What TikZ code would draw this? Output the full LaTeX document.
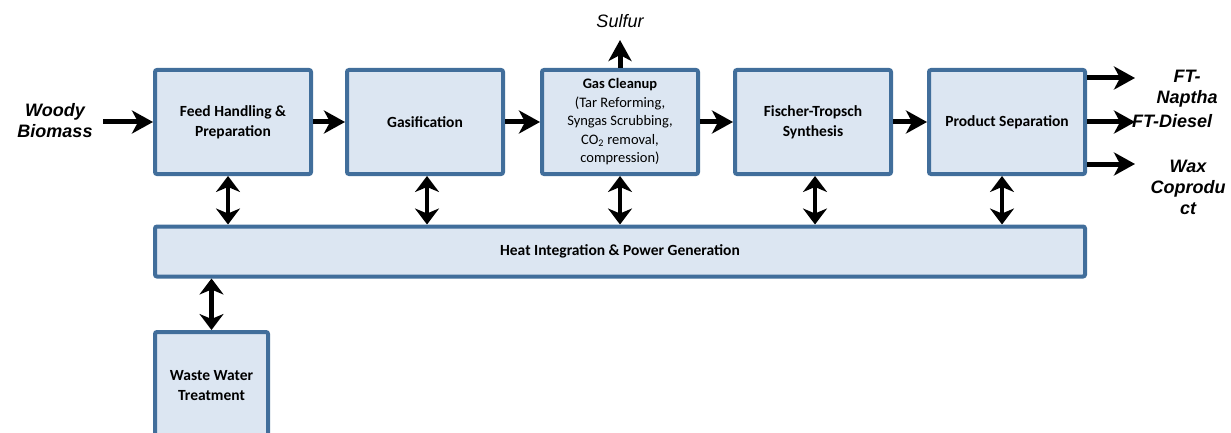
\documentclass[tikz,border=0pt]{standalone}
\usepackage{fontspec}
\newfontfamily\calib{Carlito}
\newfontfamily\arialf{Liberation Sans}
\usetikzlibrary{arrows.meta}
\definecolor{boxline}{RGB}{65,110,155}
\definecolor{boxfill}{RGB}{220,230,242}
\tikzset{
  procbox/.style={draw=boxline, line width=4pt, fill=boxfill, rounded corners=2pt,
    align=center, inner sep=2pt, font=\calib\bfseries\fontsize{15.5}{20}\selectfont},
  flow/.style={line width=5pt, -{Stealth[length=21pt,width=23pt,inset=6pt]}},
  dbl/.style={line width=4.5pt, {Stealth[length=16pt,width=24pt,inset=5pt]}-{Stealth[length=16pt,width=24pt,inset=5pt]}},
  outlbl/.style={font=\arialf\bfseries\itshape\fontsize{18}{21}\selectfont, align=center, inner sep=0pt},
}
\begin{document}
\begin{tikzpicture}[x=1pt,y=-1pt]
\useasboundingbox (0,0) rectangle (1231,433);
\clip (0,0) rectangle (1231,433);
\node[procbox, minimum width=156pt, minimum height=104pt] (feed) at (233,122) {Feed Handling \&\\Preparation};
\node[procbox, minimum width=156pt, minimum height=104pt] (gasi) at (425,122) {Gasification};
\node[procbox, minimum width=156pt, minimum height=104pt, font=\calib\fontsize{14.5}{18.5}\selectfont] (clean) at (620,122) {\textbf{Gas Cleanup}\\(Tar Reforming,\\Syngas Scrubbing,\\CO\textsubscript{2} removal,\\compression)};
\node[procbox, minimum width=156pt, minimum height=104pt] (fts) at (813,122) {Fischer-Tropsch\\Synthesis};
\node[procbox, minimum width=156pt, minimum height=104pt] (prod) at (1007,122) {Product Separation};
\node[procbox, minimum width=930pt, minimum height=50pt] (heat) at (620,251.5) {Heat Integration \& Power Generation};
\node[procbox, minimum width=113pt, minimum height=108pt] (waste) at (211.5,386) {Waste Water\\Treatment};

\node[outlbl] (woody) at (55,121) {Woody\\Biomass};
\coordinate (win) at (103,122);
\draw[flow] (win) -- (feed.west);
\draw[flow] (feed.east) -- (gasi.west);
\draw[flow] (gasi.east) -- (clean.west);
\draw[flow] (clean.east) -- (fts.west);
\draw[flow] (fts.east) -- (prod.west);

\node[font=\arialf\itshape\fontsize{18}{21}\selectfont, inner sep=0pt] (sulfur) at (620,21) {Sulfur};
\coordinate (sout) at (620,40);
\draw[flow] (clean.north) -- (sout);

\coordinate (o1) at (1135,78);
\coordinate (o2) at (1135,122);
\coordinate (o3) at (1135,164);
\draw[flow] (prod.east |- o1) -- (o1);
\draw[flow] (prod.east) -- (o2);
\draw[flow] (prod.east |- o3) -- (o3);
\node[outlbl] (naptha) at (1187,89) {FT-\\Naptha};
\node[outlbl, anchor=west] (diesel) at (1132,121) {FT-Diesel};
\node[outlbl] (wax) at (1188,187) {Wax\\Coprodu\\ct};

\draw[dbl] ([xshift=-5pt]feed.south) -- ([xshift=-5pt]feed.south |- heat.north);
\draw[dbl] ([xshift=2pt]gasi.south) -- ([xshift=2pt]gasi.south |- heat.north);
\draw[dbl] (clean.south) -- (clean.south |- heat.north);
\draw[dbl] ([xshift=2pt]fts.south) -- ([xshift=2pt]fts.south |- heat.north);
\draw[dbl] ([xshift=-5pt]prod.south) -- ([xshift=-5pt]prod.south |- heat.north);
\draw[dbl] (waste.north) -- (waste.north |- heat.south);
\end{tikzpicture}
\end{document}
